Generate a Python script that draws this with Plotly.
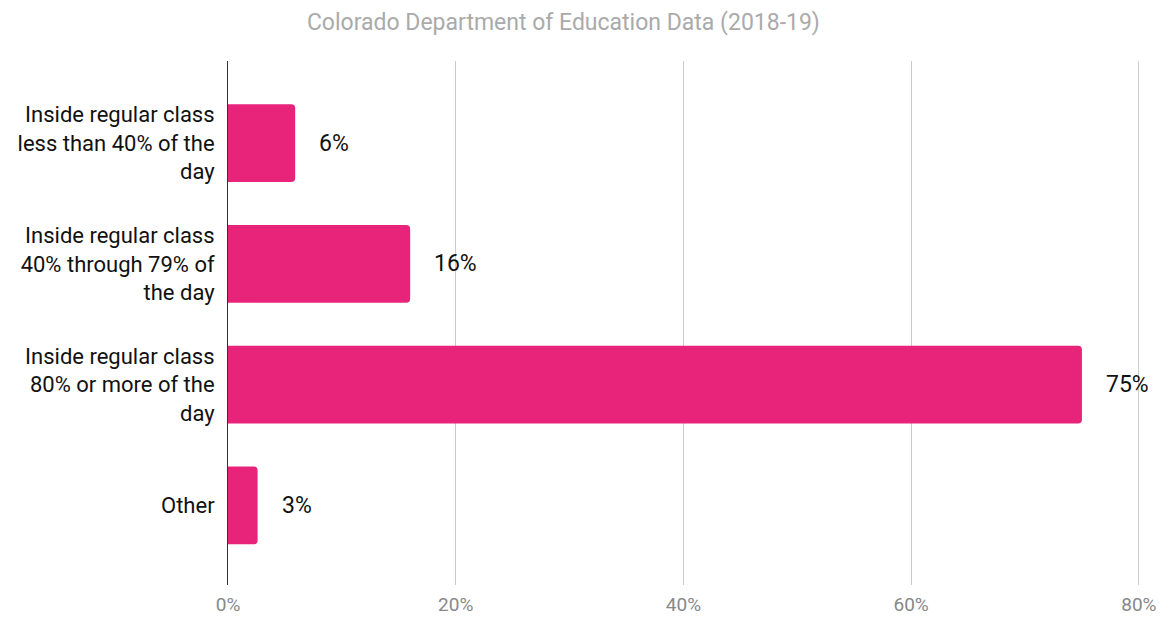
import plotly.graph_objects as go

categories = [
    "Inside regular class<br>less than 40% of the<br>day",
    "Inside regular class<br>40% through 79% of<br>the day",
    "Inside regular class<br>80% or more of the<br>day",
    "Other",
]
values = [5.9, 16.0, 75.0, 2.6]
value_labels = ["6%", "16%", "75%", "3%"]
x_ticks = [0, 20, 40, 60, 80]
x_tick_labels = ["0%", "20%", "40%", "60%", "80%"]

BAR = "#e8237a"
FONT = "Roboto, Arial, sans-serif"

fig = go.Figure()
fig.add_trace(go.Bar(
    x=values, y=categories, orientation="h",
    marker=dict(color=BAR, line=dict(width=0), cornerradius=4),
    width=0.645, hoverinfo="skip",
))

for c, v, t in zip(categories, values, value_labels):
    fig.add_annotation(x=v, y=c, text=t, showarrow=False, xanchor="left",
                       xshift=22, font=dict(family=FONT, size=23, color="#111"))

fig.update_layout(
    width=1164, height=618,
    margin=dict(l=228, r=24, t=61, b=33, autoexpand=False),
    paper_bgcolor="white", plot_bgcolor="white",
    showlegend=False,
    title=dict(text="Colorado Department of Education Data (2018-19)",
               x=0.484, xanchor="center", y=0.965, yanchor="middle",
               font=dict(family=FONT, size=23, color="#aaaaaa")),
    xaxis=dict(range=[0, 80.1], tickvals=x_ticks, ticktext=x_tick_labels,
               showgrid=True, gridcolor="#cccccc", gridwidth=1,
               zeroline=False, showline=False, ticks="", automargin=False,
               tickfont=dict(family=FONT, size=19, color="#888888"),
               ticklabelstandoff=6),
    yaxis=dict(categoryorder="array", categoryarray=categories,
               range=[3.66, -0.68], showgrid=False, zeroline=False,
               showline=True, linecolor="#333333", linewidth=1, ticks="",
               automargin=False,
               tickfont=dict(family=FONT, size=22, color="#111111"),
               ticklabelstandoff=8),
)

fig.write_html("out.html")
